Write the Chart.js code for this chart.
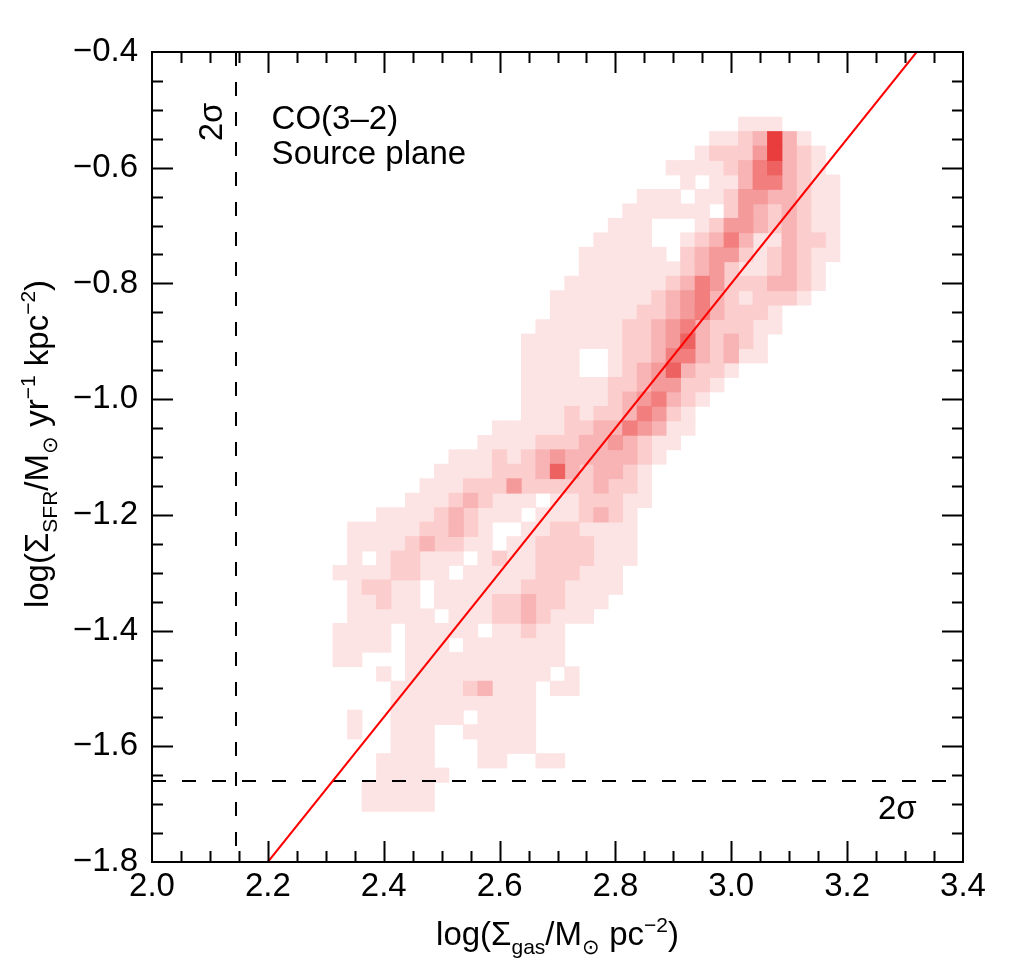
<!DOCTYPE html>
<html>
<head>
<meta charset="utf-8">
<script src="https://cdn.jsdelivr.net/npm/chart.js@4.4.1/dist/chart.umd.min.js"></script>
<style>
  html, body { margin:0; padding:0; background:#fff; }
</style>
</head>
<body>
<canvas id="chart" width="1013" height="975"></canvas>
<script>
// Sigma_SFR vs Sigma_gas, CO(3-2) source plane: density map + fit + 2 sigma limits

// axes
const xRange = [2.0, 3.4];
const yRange = [-1.8, -0.4];
const majorStep = 0.2;
const minorStep = 0.05;

// density map, rows from y=-0.525 downwards (step 0.025)
// each row = [first column, levels]; column i sits at x = 2.30 + 0.025*i, "." = empty
const gridX0 = 2.30;
const gridY0 = -0.525;
const gridStep = 0.025;
const densityRows = [
  [29, "111"],
  [27, "1123731"],
  [26, "122247321"],
  [24, "11112356321"],
  [25, "1.113553211"],
  [22, "111.1124433211"],
  [21, "111111.24323211"],
  [20, "111...1244323211"],
  [19, "1111..12353113221"],
  [18, "111111.23442123211"],
  [18, "11111112342112321"],
  [17, "111111123542223321"],
  [16, "111111123453212221"],
  [16, "1111112234532221"],
  [15, "11111122345322211"],
  [14, "11111112234632321"],
  [14, "1111..12235532311"],
  [14, "1111..123463221"],
  [14, "11111122344221"],
  [14, "1111112345321"],
  [14, "111212235421"],
  [12, "11111223354311"],
  [11, "11112223343211"],
  [9,  "111212343333321"],
  [8,  "111122236323321"],
  [7,  "1112224222223221"],
  [6,  "111232111.1122211"],
  [4,  "1111232111.1112321"],
  [2,  "1111122321..11221111"],
  [2,  "1111232211.112222111"],
  [2,  "1.122111.12112222111"],
  [1,  "11112211.11111222111"],
  [2,  "12211.1111112221111"],
  [2,  "11211.111122322111"],
  [2,  "111111.1112232111"],
  [1,  "1111.11111.11211"],
  [1,  "1111.111.1111111"],
  [1,  "11...11111111111"],
  [4,  "1.1111111111.1"],
  [5,  "1111123111.11"],
  [5,  "1111111111"],
  [2,  "1..11111.1111"],
  [2,  "1..111..11111"],
  [5,  "111...1111"],
  [4,  "1111...11..11"],
  [4,  "11111"],
  [3,  "11111"],
  [3,  "11111"]
];
const levelColors = ["#fde4e4", "#fbcdcd", "#f8b4b4", "#f59a9a", "#f27e7e", "#ee6161", "#e93c3c"];

// best fit and 2 sigma limits
const fitX = [2.2, 3.32];
const fitY = [-1.8, -0.4];
const sigmaGas = 2.145;
const sigmaSfr = -1.66;

const FAMILY = 'Helvetica, Arial, "Liberation Sans", sans-serif';
const MAIN = 33, SMALL = 21;
Chart.defaults.font.family = FAMILY;
Chart.defaults.font.size = MAIN;
Chart.defaults.color = "#000";

const xTitle = [["log(\u03A3", ""], ["gas", "sub"], ["/M", ""], ["\u2299", "sub"], [" pc", ""], ["\u22122", "sup"], [")", ""]];
const yTitle = [["log(\u03A3", ""], ["SFR", "sub"], ["/M", ""], ["\u2299", "sub"], [" yr", ""], ["\u22121", "sup"], [" kpc", ""], ["\u22122", "sup"], [")", ""]];

function cellRadius(ctx){
  const s = ctx.chart.scales.x;
  if(!s) return 8;
  const px = Math.abs(s.getPixelForValue(gridStep) - s.getPixelForValue(0));
  return (px + 0.8) / Math.SQRT2;
}

const levelSets = levelColors.map((c, k) => ({
  label: "level " + (k + 1),
  data: [],
  pointStyle: "rect",
  backgroundColor: c,
  borderWidth: 0,
  pointRadius: cellRadius,
  pointHoverRadius: cellRadius,
  order: 20 - k
}));
densityRows.forEach(([c0, s], r) => {
  for(let j = 0; j < s.length; j++){
    if(s[j] === ".") continue;
    levelSets[+s[j] - 1].data.push({
      x: +(gridX0 + gridStep * (c0 + j)).toFixed(3),
      y: +(gridY0 - gridStep * r).toFixed(3)
    });
  }
});

const lineSets = [
  { label:"fit", data: fitX.map((x, i) => ({ x, y: fitY[i] })), showLine:true, borderColor:"#ff0000", borderWidth:2, pointRadius:0, order:1 },
  { label:"2s gas", data:[{ x:sigmaGas, y:yRange[1] }, { x:sigmaGas, y:yRange[0] }], showLine:true, borderColor:"#000", borderWidth:2, borderDash:[14,16], pointRadius:0, order:2 },
  { label:"2s sfr", data:[{ x:xRange[0], y:sigmaSfr }, { x:xRange[1], y:sigmaSfr }], showLine:true, borderColor:"#000", borderWidth:2, borderDash:[14,16], pointRadius:0, order:2 }
];

function drawRich(ctx, parts, cx, cy, angle){
  ctx.save();
  ctx.translate(cx, cy);
  ctx.rotate(angle);
  ctx.fillStyle = "#000";
  ctx.textAlign = "left";
  ctx.textBaseline = "alphabetic";
  const fontFor = k => (k ? SMALL : MAIN) + "px " + FAMILY;
  let total = 0;
  parts.forEach(([t, k]) => { ctx.font = fontFor(k); total += ctx.measureText(t).width; });
  let x = -total / 2;
  parts.forEach(([t, k]) => {
    ctx.font = fontFor(k);
    const dy = k === "sub" ? 9 : (k === "sup" ? -13 : 0);
    ctx.fillText(t, x, dy);
    x += ctx.measureText(t).width;
  });
  ctx.restore();
}

function label(ctx, text, px, py, angle, align){
  ctx.save();
  ctx.translate(px, py);
  ctx.rotate(angle);
  ctx.font = MAIN + "px " + FAMILY;
  ctx.fillStyle = "#000";
  ctx.textAlign = align;
  ctx.textBaseline = "middle";
  ctx.fillText(text, 0, 0);
  ctx.restore();
}

// frame, inward ticks on all sides, titles and labels
const framePlugin = {
  id: "frame",
  afterDraw(chart){
    const { ctx, chartArea: a, scales: { x, y } } = chart;
    ctx.save();
    ctx.strokeStyle = "#000";
    ctx.lineWidth = 2;
    ctx.strokeRect(a.left, a.top, a.right - a.left, a.bottom - a.top);
    ctx.beginPath();
    const nx = Math.round((xRange[1] - xRange[0]) / minorStep);
    for(let k = 1; k < nx; k++){
      const px = Math.round(x.getPixelForValue(xRange[0] + k * minorStep)) + 0.5;
      const len = k % 4 === 0 ? 21 : 11;
      ctx.moveTo(px, a.bottom); ctx.lineTo(px, a.bottom - len);
      ctx.moveTo(px, a.top); ctx.lineTo(px, a.top + len);
    }
    const ny = Math.round((yRange[1] - yRange[0]) / minorStep);
    for(let k = 1; k < ny; k++){
      const py = Math.round(y.getPixelForValue(yRange[0] + k * minorStep)) + 0.5;
      const len = k % 4 === 0 ? 21 : 11;
      ctx.moveTo(a.left, py); ctx.lineTo(a.left + len, py);
      ctx.moveTo(a.right, py); ctx.lineTo(a.right - len, py);
    }
    ctx.stroke();
    ctx.restore();

    drawRich(ctx, xTitle, (a.left + a.right) / 2, 945, 0);
    drawRich(ctx, yTitle, 48, 444, -Math.PI / 2);

    label(ctx, "2\u03C3", x.getPixelForValue(2.105), y.getPixelForValue(-0.521), -Math.PI / 2, "center");
    label(ctx, "CO(3\u20132)", x.getPixelForValue(2.2065), y.getPixelForValue(-0.518), 0, "left");
    label(ctx, "Source plane", x.getPixelForValue(2.2065), y.getPixelForValue(-0.578), 0, "left");
    label(ctx, "2\u03C3", x.getPixelForValue(3.2866), y.getPixelForValue(-1.71), 0, "center");
  }
};

const fmt = v => (v < -1e-9 ? "\u2212" : "") + Math.abs(v).toFixed(1);

new Chart(document.getElementById("chart"), {
  type: "scatter",
  data: { datasets: [...lineSets, ...levelSets] },
  options: {
    responsive: false,
    animation: false,
    events: [],
    layout: { padding: { left: 0, top: 52, right: 50, bottom: 0 } },
    plugins: { legend: { display: false }, tooltip: { enabled: false } },
    scales: {
      x: {
        type: "linear", min: xRange[0], max: xRange[1],
        grid: { display: false, drawTicks: false },
        border: { display: false },
        ticks: { stepSize: majorStep, padding: 5, maxRotation: 0, autoSkip: false, callback: fmt },
        afterFit: s => { s.height = 113; }
      },
      y: {
        type: "linear", min: yRange[0], max: yRange[1],
        grid: { display: false, drawTicks: false },
        border: { display: false },
        ticks: { stepSize: majorStep, padding: 14, autoSkip: false, callback: fmt },
        afterFit: s => { s.width = 152; }
      }
    }
  },
  plugins: [framePlugin]
});
</script>
</body>
</html>
